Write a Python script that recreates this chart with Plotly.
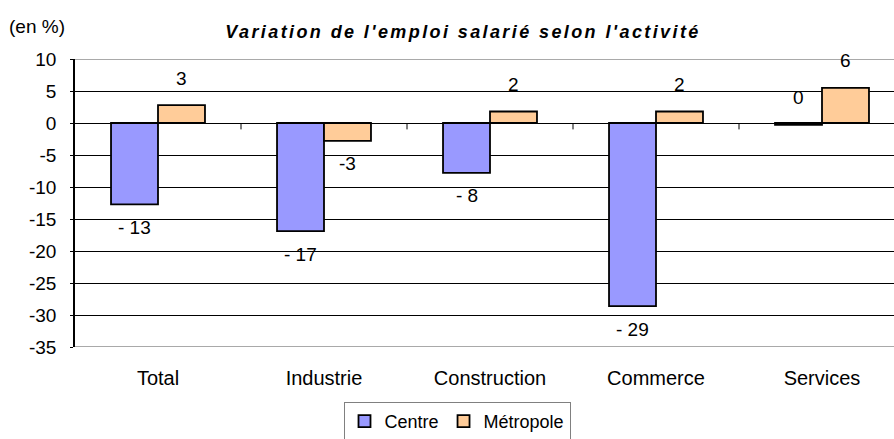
import plotly.graph_objects as go

categories = ["Total", "Industrie", "Construction", "Commerce", "Services"]
centre = [-12.7, -16.9, -7.8, -28.6, -0.3]
metropole = [2.8, -2.8, 1.8, 1.8, 5.5]
centre_labels = ["- 13", "- 17", "- 8", "- 29", "0"]
metropole_labels = ["3", "-3", "2", "2", "6"]
y_ticks = [10, 5, 0, -5, -10, -15, -20, -25, -30, -35]

FONT = "Liberation Sans, Arial, sans-serif"
C_CENTRE = "#9999FF"
C_METRO = "#FFCC99"

fig = go.Figure()
fig.add_trace(go.Bar(name="Centre", x=categories, y=centre,
                     marker=dict(color=C_CENTRE, line=dict(color="black", width=1.8))))
fig.add_trace(go.Bar(name="Métropole", x=categories, y=metropole,
                     marker=dict(color=C_METRO, line=dict(color="black", width=1.8))))

annotations = []
for vals, labs, xs in ((centre, centre_labels, -23.5), (metropole, metropole_labels, 23.5)):
    for cat, v, lab in zip(categories, vals, labs):
        above = v > -0.5
        annotations.append(dict(x=cat, y=v, xref="x", yref="y", text=lab, showarrow=False,
                                xshift=xs, yshift=27 if above else -23,
                                font=dict(family=FONT, size=19, color="black")))

annotations.append(dict(x=(7 - 75) / 819, y=(347 - 26) / 288, xref="paper", yref="paper",
                        text="(en %)", showarrow=False, xanchor="left", yanchor="middle",
                        font=dict(family=FONT, size=19, color="black")))

n = len(categories)
shapes = []
for i in range(n - 1):
    shapes.append(dict(type="line", xref="x", yref="y", x0=i + 0.5, x1=i + 0.5, y0=0, y1=-1,
                       line=dict(color="black", width=1)))
shapes.append(dict(type="line", xref="paper", yref="y", x0=0, x1=1, y0=10, y1=10,
                   line=dict(color="#8c8c8c", width=1.5)))
shapes.append(dict(type="line", xref="paper", yref="y", x0=0, x1=1, y0=-35, y1=-35,
                   line=dict(color="#8c8c8c", width=1.5)))

fig.update_layout(
    width=894, height=439,
    margin=dict(l=75, r=0, t=59, b=92, autoexpand=False),
    paper_bgcolor="white", plot_bgcolor="white",
    barmode="group", bargap=0.434, bargroupgap=0,
    title=dict(text='<span style="letter-spacing:2.4px">Variation de l\'emploi salarié selon l\'activité</span>',
               x=463 / 894, xanchor="center", y=1 - 32 / 439, yanchor="middle",
               font=dict(family=FONT, size=18, color="black", weight="bold", style="italic")),
    xaxis=dict(range=[-0.5, -0.5 + 819 / 166], showgrid=False, zeroline=False, showline=False,
               ticks="", tickfont=dict(family=FONT, size=20, color="black"), ticklabelstandoff=17),
    yaxis=dict(range=[-35, 10], tickvals=y_ticks, ticktext=[str(t) for t in y_ticks],
               showgrid=True, gridcolor="black", gridwidth=1,
               zeroline=True, zerolinecolor="black", zerolinewidth=1,
               showline=True, linecolor="black", linewidth=1.5,
               ticks="outside", ticklen=3, tickcolor="black",
               tickfont=dict(family=FONT, size=19, color="black"), ticklabelstandoff=10),
    legend=dict(orientation="h", xref="container", yref="container",
                x=457 / 894, xanchor="center", y=1 - 402 / 439, yanchor="top",
                bordercolor="#808080", borderwidth=1, font=dict(family=FONT, size=18, color="black"),
                itemwidth=30, traceorder="normal"),
    annotations=annotations, shapes=shapes, showlegend=True,
)

fig.write_html("out.html", config={"displayModeBar": False},
               post_script="document.body.style.margin='0';document.body.style.overflow='hidden';")
